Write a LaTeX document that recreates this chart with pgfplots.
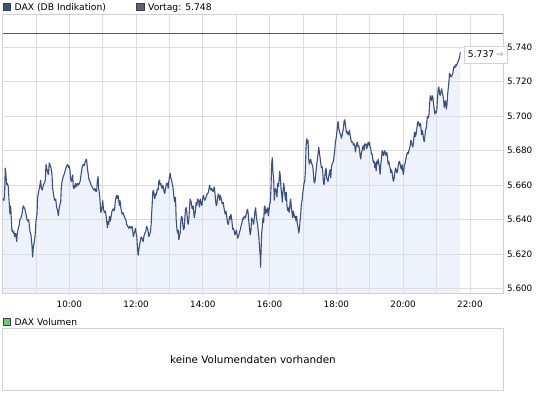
\documentclass[border=0pt]{standalone}
\usepackage{fontspec}
\setmainfont{DejaVu Sans}
\usepackage{pgfplots}
\usepackage{pgfplotstable}
\pgfplotsset{compat=1.18}
\definecolor{daxline}{RGB}{58,80,130}
\definecolor{daxfill}{RGB}{238,242,250}
\definecolor{gridc}{RGB}{221,221,224}
\definecolor{framec}{RGB}{210,210,214}
\definecolor{vortag}{RGB}{84,88,112}
\definecolor{vortagsq}{RGB}{92,96,120}
\definecolor{volgreen}{RGB}{102,204,102}
\definecolor{arrowc}{RGB}{185,185,185}

\pgfplotstableread{
t v
8.00 5652
8.04 5651
8.06 5655
8.08 5670
8.10 5666
8.12 5660
8.14 5661
8.17 5659
8.20 5649
8.22 5643
8.24 5648
8.26 5641
8.28 5633
8.30 5634
8.32 5632
8.34 5633
8.36 5630
8.38 5632
8.40 5631
8.42 5627
8.44 5632
8.47 5635
8.50 5637
8.52 5640
8.55 5641
8.58 5643
8.60 5646
8.62 5648
8.64 5647
8.67 5646
8.70 5643
8.72 5641
8.75 5639
8.78 5640
8.80 5637
8.82 5633
8.85 5631
8.88 5625
8.90 5618
8.92 5624
8.94 5626
8.97 5630
9.00 5639
9.03 5643
9.05 5653
9.08 5656
9.10 5658
9.12 5660
9.14 5663
9.16 5658
9.19 5657
9.22 5660
9.25 5661
9.28 5663
9.30 5672
9.32 5670
9.34 5668
9.37 5666
9.40 5673
9.43 5671
9.45 5670
9.48 5666
9.50 5658
9.53 5654
9.56 5651
9.59 5652
9.62 5647
9.65 5645
9.67 5642
9.69 5646
9.72 5649
9.74 5650
9.76 5659
9.79 5663
9.82 5665
9.84 5666
9.87 5668
9.90 5670
9.92 5671
9.95 5672
9.98 5670
10.00 5671
10.02 5668
10.05 5662
10.08 5663
10.10 5666
10.12 5658
10.14 5660
10.16 5658
10.19 5661
10.22 5659
10.25 5661
10.28 5660
10.32 5662
10.35 5666
10.38 5670
10.41 5672
10.44 5671
10.47 5673
10.50 5675
10.52 5674
10.54 5670
10.56 5667
10.59 5663
10.62 5662
10.65 5660
10.68 5659
10.71 5658
10.74 5657
10.77 5658
10.80 5656
10.82 5657
10.84 5663
10.86 5665
10.88 5658
10.90 5655
10.92 5651
10.94 5644
10.96 5645
10.98 5647
11.00 5651
11.02 5646
11.05 5644
11.08 5645
11.10 5642
11.12 5639
11.14 5635
11.16 5639
11.18 5637
11.20 5642
11.23 5639
11.26 5643
11.28 5645
11.31 5646
11.34 5645
11.36 5647
11.38 5651
11.40 5653
11.42 5654
11.44 5652
11.46 5654
11.48 5651
11.50 5648
11.52 5651
11.54 5647
11.56 5645
11.58 5643
11.61 5644
11.64 5642
11.66 5641
11.69 5640
11.72 5637
11.75 5636
11.78 5635
11.81 5636
11.84 5635
11.88 5636
11.90 5633
11.92 5630
11.94 5632
11.96 5633
11.98 5635
12.00 5632
12.02 5630
12.04 5624
12.06 5619
12.08 5622
12.10 5625
12.13 5628
12.15 5630
12.18 5629
12.21 5627
12.23 5630
12.26 5632
12.29 5633
12.31 5636
12.34 5635
12.36 5633
12.38 5630
12.40 5631
12.43 5633
12.45 5637
12.47 5645
12.50 5656
12.52 5657
12.54 5654
12.56 5652
12.58 5655
12.60 5654
12.62 5656
12.64 5658
12.66 5657
12.68 5662
12.70 5663
12.72 5660
12.74 5661
12.76 5659
12.78 5658
12.80 5660
12.82 5658
12.84 5656
12.86 5655
12.88 5658
12.90 5660
12.92 5661
12.94 5661
12.96 5658
12.98 5662
13.00 5665
13.02 5667
13.04 5664
13.06 5663
13.08 5661
13.10 5659
13.12 5656
13.14 5652
13.16 5650
13.18 5653
13.20 5640
13.22 5635
13.24 5632
13.26 5634
13.28 5628
13.30 5631
13.32 5632
13.34 5639
13.36 5642
13.38 5641
13.40 5637
13.42 5634
13.44 5635
13.46 5641
13.48 5646
13.50 5647
13.52 5644
13.54 5639
13.56 5637
13.58 5640
13.60 5647
13.62 5652
13.65 5650
13.68 5646
13.71 5648
13.74 5641
13.77 5644
13.80 5650
13.82 5648
13.84 5652
13.87 5651
13.90 5647
13.92 5652
13.94 5650
13.97 5648
13.99 5652
14.02 5654
14.05 5651
14.08 5652
14.11 5654
14.14 5655
14.17 5656
14.20 5660
14.22 5658
14.24 5657
14.27 5658
14.30 5656
14.32 5657
14.34 5659
14.36 5656
14.38 5651
14.40 5648
14.42 5649
14.44 5653
14.47 5655
14.50 5651
14.52 5654
14.55 5652
14.58 5649
14.61 5650
14.63 5647
14.65 5645
14.67 5643
14.69 5645
14.72 5641
14.74 5638
14.76 5637
14.78 5639
14.80 5642
14.82 5640
14.84 5643
14.86 5641
14.88 5637
14.90 5634
14.92 5635
14.94 5633
14.96 5631
14.98 5632
15.00 5634
15.02 5632
15.04 5629
15.06 5630
15.08 5631
15.10 5633
15.12 5634
15.14 5636
15.17 5638
15.20 5641
15.22 5640
15.24 5642
15.27 5641
15.30 5643
15.32 5645
15.34 5646
15.36 5643
15.38 5638
15.40 5634
15.42 5631
15.44 5634
15.46 5641
15.48 5640
15.50 5639
15.52 5637
15.54 5641
15.56 5645
15.58 5647
15.60 5642
15.62 5639
15.64 5637
15.66 5633
15.68 5629
15.70 5623
15.72 5618
15.73 5612
15.74 5620
15.76 5632
15.78 5636
15.80 5641
15.82 5638
15.84 5647
15.86 5648
15.88 5643
15.90 5646
15.92 5644
15.94 5647
15.96 5642
15.98 5645
16.00 5649
16.02 5650
16.04 5658
16.06 5672
16.08 5676
16.10 5667
16.12 5664
16.14 5651
16.16 5657
16.18 5658
16.20 5656
16.22 5653
16.24 5661
16.26 5659
16.28 5662
16.30 5668
16.32 5665
16.34 5658
16.36 5655
16.38 5650
16.40 5656
16.42 5661
16.44 5658
16.46 5654
16.48 5651
16.50 5656
16.52 5648
16.54 5645
16.56 5647
16.58 5644
16.60 5646
16.61 5650
16.63 5652
16.65 5647
16.67 5644
16.69 5641
16.71 5645
16.73 5643
16.75 5641
16.77 5642
16.79 5639
16.81 5642
16.83 5637
16.85 5636
16.87 5632
16.89 5634
16.91 5639
16.93 5643
16.95 5649
16.97 5651
16.99 5655
17.01 5658
17.03 5661
17.05 5662
17.07 5668
17.09 5682
17.11 5687
17.13 5684
17.15 5686
17.17 5675
17.19 5672
17.21 5674
17.23 5675
17.25 5673
17.27 5672
17.29 5671
17.31 5667
17.33 5662
17.35 5661
17.37 5664
17.39 5668
17.41 5672
17.43 5675
17.45 5678
17.47 5682
17.49 5679
17.51 5676
17.53 5673
17.55 5670
17.57 5671
17.59 5668
17.61 5662
17.63 5660
17.65 5664
17.67 5668
17.69 5670
17.71 5664
17.73 5663
17.75 5662
17.77 5665
17.79 5667
17.81 5669
17.83 5664
17.85 5670
17.87 5672
17.89 5673
17.91 5674
17.93 5677
17.95 5680
17.97 5685
17.99 5687
18.01 5690
18.03 5694
18.05 5697
18.07 5693
18.09 5691
18.11 5690
18.13 5689
18.15 5687
18.17 5689
18.19 5691
18.21 5693
18.23 5697
18.25 5698
18.27 5695
18.29 5692
18.31 5690
18.33 5691
18.35 5689
18.37 5690
18.39 5692
18.41 5689
18.43 5687
18.45 5685
18.47 5685
18.49 5685
18.51 5683
18.53 5684
18.55 5683
18.57 5679
18.59 5682
18.61 5684
18.63 5685
18.65 5682
18.67 5683
18.69 5681
18.71 5677
18.73 5675
18.75 5679
18.77 5680
18.79 5682
18.81 5683
18.83 5680
18.85 5684
18.87 5683
18.89 5684
18.91 5681
18.93 5683
18.95 5685
18.97 5683
18.99 5685
19.01 5682
19.03 5681
19.05 5678
19.07 5678
19.09 5675
19.11 5673
19.13 5674
19.15 5670
19.17 5673
19.19 5668
19.21 5674
19.23 5672
19.25 5675
19.27 5673
19.29 5670
19.31 5666
19.33 5672
19.35 5675
19.37 5680
19.39 5679
19.41 5677
19.43 5679
19.45 5680
19.47 5678
19.49 5677
19.51 5679
19.53 5676
19.55 5672
19.57 5674
19.59 5671
19.61 5670
19.63 5667
19.65 5669
19.67 5667
19.69 5664
19.71 5662
19.73 5664
19.75 5667
19.77 5670
19.79 5669
19.81 5667
19.83 5668
19.85 5671
19.87 5673
19.89 5674
19.91 5672
19.93 5670
19.95 5669
19.97 5672
19.99 5668
20.01 5666
20.03 5671
20.05 5672
20.07 5674
20.09 5676
20.11 5678
20.13 5679
20.15 5678
20.17 5680
20.19 5681
20.21 5683
20.23 5686
20.25 5685
20.27 5683
20.29 5682
20.31 5685
20.33 5689
20.35 5691
20.37 5688
20.39 5690
20.41 5693
20.43 5696
20.45 5697
20.47 5695
20.49 5694
20.51 5696
20.53 5694
20.55 5689
20.57 5692
20.59 5690
20.61 5687
20.63 5685
20.65 5688
20.67 5692
20.69 5693
20.71 5697
20.73 5700
20.75 5699
20.77 5700
20.79 5706
20.81 5712
20.83 5710
20.85 5709
20.87 5712
20.89 5711
20.91 5707
20.93 5704
20.95 5701
20.97 5703
20.99 5702
21.01 5704
21.03 5711
21.05 5716
21.07 5717
21.09 5713
21.11 5712
21.13 5714
21.15 5716
21.17 5714
21.19 5712
21.21 5710
21.23 5705
21.25 5708
21.27 5709
21.29 5704
21.31 5706
21.33 5712
21.35 5716
21.37 5720
21.39 5725
21.41 5724
21.43 5723
21.45 5723
21.47 5724
21.49 5725
21.51 5728
21.53 5729
21.55 5728
21.57 5730
21.59 5729
21.61 5730
21.63 5731
21.65 5732
21.67 5733
21.69 5734
21.71 5737
}\daxdata

\begin{document}
\begin{tikzpicture}[font=\fontsize{9.2}{11}\selectfont]
\path (0,0) rectangle (545pt,-395pt);
% top legend
\draw[black!75, line width=0.6pt, fill=daxline] (3pt,-3pt) rectangle (10.5pt,-10.5pt);
\node[anchor=base west, inner sep=0pt] at (14.5pt,-10.8pt) {DAX (DB Indikation)};
\draw[black!75, line width=0.6pt, fill=vortagsq] (136.7pt,-3pt) rectangle (144.2pt,-10.5pt);
\node[anchor=base west, inner sep=0pt] at (148pt,-10.8pt) {Vortag: 5.748};

\begin{axis}[
  at={(2.6pt,-14.5pt)}, anchor=north west,
  width=500.7pt, height=279.2pt, scale only axis,
  xmin=8, xmax=23, ymin=5596.9, ymax=5759,
  set layers, clip mode=individual,
  axis line style={framec, line width=0.8pt},
  grid=major, grid style={gridc, line width=0.8pt},
  major tick length=0pt,
  xtick={9,10,...,22},
  xticklabels={,10:00,,12:00,,14:00,,16:00,,18:00,,20:00,,22:00},
  ytick={5600,5620,5640,5660,5680,5700,5720,5740},
  yticklabel pos=right,
  tick label style={font=\fontsize{8.8}{10}\selectfont},
  yticklabel style={anchor=west, inner sep=0pt, xshift=3.6pt},
  xticklabel style={anchor=north, inner sep=0pt, yshift=-7pt},
  /pgf/number format/.cd, fixed, 1000 sep={.}, assume math mode=true
]
\addplot[draw=none, fill=daxfill, on layer=axis background] table[x=t,y=v]{\daxdata} |- (axis cs:8,5596.9) -- cycle;
\addplot[vortag, line width=1pt] coordinates {(8,5748) (23,5748)};
\addplot[daxline, line width=1.1pt, line join=miter, miter limit=2] table[x=t,y=v]{\daxdata};
\node[draw=framec, fill=white, line width=0.8pt, anchor=west, inner xsep=3.5pt, inner ysep=0pt, minimum height=17pt, xshift=3.8pt, yshift=-2.2pt, font=\fontsize{9.2}{10}\selectfont] at (axis cs:21.71,5737) {5.737\,\textcolor{arrowc}{\bfseries →}};
\end{axis}

% volume panel
\draw[black!75, line width=0.6pt, fill=volgreen] (3pt,-318pt) rectangle (10.5pt,-325.5pt);
\node[anchor=base west, inner sep=0pt] at (14.5pt,-325.8pt) {DAX Volumen};
\draw[framec, line width=0.8pt, fill=white] (2.8pt,-328.7pt) rectangle (503.3pt,-390.6pt);
\node[inner sep=0pt, font=\fontsize{10.4}{12}\selectfont] at (253pt,-359.5pt) {keine Volumendaten vorhanden};
\end{tikzpicture}
\end{document}
